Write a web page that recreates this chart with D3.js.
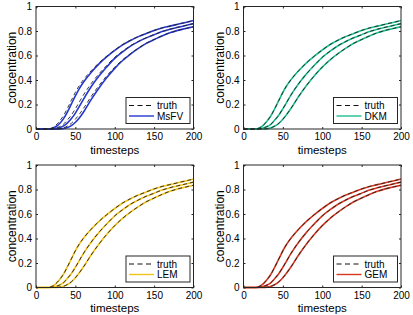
<!DOCTYPE html>
<html lang="en">
  <head>
    <meta charset="utf-8">
    <title>Concentration vs timesteps</title>
    <style>
      body { margin: 0; background: #fff; }
      svg { display: block; font-family: "Liberation Sans", Arial, Helvetica, sans-serif; }
    </style>
  </head>
  <body>
    <svg id="chart" width="413" height="315"></svg>
    <script src="https://d3js.org/d3.v7.min.js"></script>
    <script>
      const steps = [0, 10, 15, 20, 25, 30, 35, 40, 45, 50, 55, 60, 70, 80, 90, 100,
                     110, 120, 130, 140, 150, 160, 170, 180, 190, 200];

      // reference solution, three observation points
      const truthA = [0, 0, 0, 0.008, 0.03, 0.065, 0.11, 0.17, 0.235, 0.30, 0.355, 0.40, 0.475, 0.54, 0.595, 0.645,
                      0.69, 0.725, 0.755, 0.78, 0.805, 0.825, 0.84, 0.855, 0.87, 0.885];
      const truthB = [0, 0, 0, 0.002, 0.008, 0.02, 0.04, 0.075, 0.115, 0.165, 0.22, 0.275, 0.37, 0.45, 0.52, 0.585,
                      0.635, 0.68, 0.715, 0.745, 0.77, 0.795, 0.815, 0.83, 0.845, 0.86];
      const truthC = [0, 0, 0, 0, 0, 0.003, 0.01, 0.025, 0.047, 0.08, 0.12, 0.165, 0.265, 0.355, 0.435, 0.505,
                      0.565, 0.615, 0.66, 0.70, 0.73, 0.76, 0.785, 0.805, 0.82, 0.835];

      // MsFV lags a little behind the truth on the rising part
      const msfvA = [0, 0, 0, 0.004, 0.018, 0.045, 0.085, 0.14, 0.205, 0.27, 0.33, 0.38, 0.462, 0.532, 0.59, 0.641,
                     0.687, 0.723, 0.754, 0.779, 0.804, 0.824, 0.84, 0.855, 0.87, 0.885];
      const msfvB = [0, 0, 0, 0, 0.003, 0.01, 0.025, 0.05, 0.085, 0.13, 0.185, 0.24, 0.345, 0.432, 0.508, 0.577,
                     0.63, 0.677, 0.713, 0.744, 0.77, 0.795, 0.815, 0.83, 0.845, 0.86];
      const msfvC = [0, 0, 0, 0, 0, 0, 0.004, 0.012, 0.028, 0.055, 0.09, 0.135, 0.24, 0.335, 0.42, 0.495,
                     0.559, 0.612, 0.658, 0.699, 0.73, 0.76, 0.785, 0.805, 0.82, 0.835];

      // the other three methods sit on top of the truth
      const dkmA = truthA, dkmB = truthB, dkmC = truthC;
      const lemA = truthA, lemB = truthB, lemC = truthC;
      const gemA = truthA, gemB = truthB, gemC = truthC;

      const methods = ["MsFV", "DKM", "LEM", "GEM"];
      const methodColors = ["#2637cf", "#1fbf8e", "#f0c21a", "#d8381f"];
      const methodSeries = [[msfvA, msfvB, msfvC], [dkmA, dkmB, dkmC], [lemA, lemB, lemC], [gemA, gemB, gemC]];
      const truthSeries = [truthA, truthB, truthC];

      const xTicks = [0, 50, 100, 150, 200];
      const yTicks = [0, 0.2, 0.4, 0.6, 0.8, 1];
      const xLabel = "timesteps";
      const yLabel = "concentration";

      // panel boxes (left, top) in pixels
      const panels = [
        { left: 36, top: 6.5 },
        { left: 243.5, top: 6.5 },
        { left: 36, top: 165 },
        { left: 243.5, top: 165 }
      ];
      const pw = 157.5, ph = 122.5;
      const axisColor = "#262626";

      const svg = d3.select("#chart");

      const x = d3.scaleLinear().domain([0, 200]).range([0, pw]);
      const y = d3.scaleLinear().domain([0, 1]).range([ph, 0]);

      const line = d3.line()
        .x(d => x(d[0]))
        .y(d => y(d[1]))
        .curve(d3.curveMonotoneX);

      function pairs(vals) {
        return steps.map((t, i) => [t, vals[i]]);
      }

      panels.forEach((p, k) => {
        const g = svg.append("g").attr("transform", `translate(${p.left},${p.top})`);
        const color = methodColors[k];

        // method curves
        g.append("g").selectAll("path")
          .data(methodSeries[k])
          .join("path")
            .attr("d", d => line(pairs(d)))
            .attr("fill", "none")
            .attr("stroke", color)
            .attr("stroke-width", 1.6);

        // truth, dashed black
        g.append("g").selectAll("path")
          .data(truthSeries)
          .join("path")
            .attr("d", d => line(pairs(d)))
            .attr("fill", "none")
            .attr("stroke", "#222")
            .attr("stroke-width", 0.9)
            .attr("stroke-dasharray", "4,3");

        // axes with inward ticks
        g.append("g")
          .attr("transform", `translate(0,${ph})`)
          .call(d3.axisBottom(x).tickValues(xTicks).tickSizeInner(-2).tickSizeOuter(0).tickPadding(4));
        g.append("g")
          .call(d3.axisLeft(y).tickValues(yTicks).tickFormat(d3.format("")).tickSizeInner(-2).tickSizeOuter(0).tickPadding(4));
        g.append("g")
          .call(d3.axisTop(x).tickValues(xTicks).tickSizeInner(-2).tickSizeOuter(0).tickFormat(""));
        g.append("g")
          .attr("transform", `translate(${pw},0)`)
          .call(d3.axisRight(y).tickValues(yTicks).tickSizeInner(-2).tickSizeOuter(0).tickFormat(""));

        g.selectAll(".domain").remove();
        g.selectAll(".tick line").attr("stroke", axisColor);
        g.selectAll(".tick text")
          .attr("fill", "#000")
          .attr("font-size", 10)
          .attr("font-family", "Liberation Sans, Arial, sans-serif");

        g.append("rect")
          .attr("width", pw).attr("height", ph)
          .attr("fill", "none")
          .attr("stroke", axisColor)
          .attr("stroke-width", 1);

        // axis labels
        g.append("text")
          .attr("x", pw / 2).attr("y", ph + 24.5)
          .attr("text-anchor", "middle")
          .attr("font-size", 11.5)
          .text(xLabel);
        g.append("text")
          .attr("transform", `translate(${-20},${ph / 2}) rotate(-90)`)
          .attr("text-anchor", "middle")
          .attr("font-size", 12)
          .text(yLabel);

        // legend
        const lw = 64, lh = 26;
        const lg = g.append("g").attr("transform", `translate(${pw - lw - 3.5},${ph - lh - 5.5})`);
        lg.append("rect")
          .attr("width", lw).attr("height", lh)
          .attr("fill", "#fff")
          .attr("stroke", axisColor)
          .attr("stroke-width", 1);
        const items = [
          { label: "truth", stroke: "#111", dash: "5,3.5", width: 1.2 },
          { label: methods[k], stroke: color, dash: null, width: 1.4 }
        ];
        items.forEach((it, i) => {
          const yy = 8 + i * 10.5;
          lg.append("line")
            .attr("x1", 3).attr("x2", 28)
            .attr("y1", yy).attr("y2", yy)
            .attr("stroke", it.stroke)
            .attr("stroke-width", it.width)
            .attr("stroke-dasharray", it.dash);
          lg.append("text")
            .attr("x", 31).attr("y", yy + 3.5)
            .attr("font-size", 10)
            .text(it.label);
        });
      });
    </script>
  </body>
</html>
